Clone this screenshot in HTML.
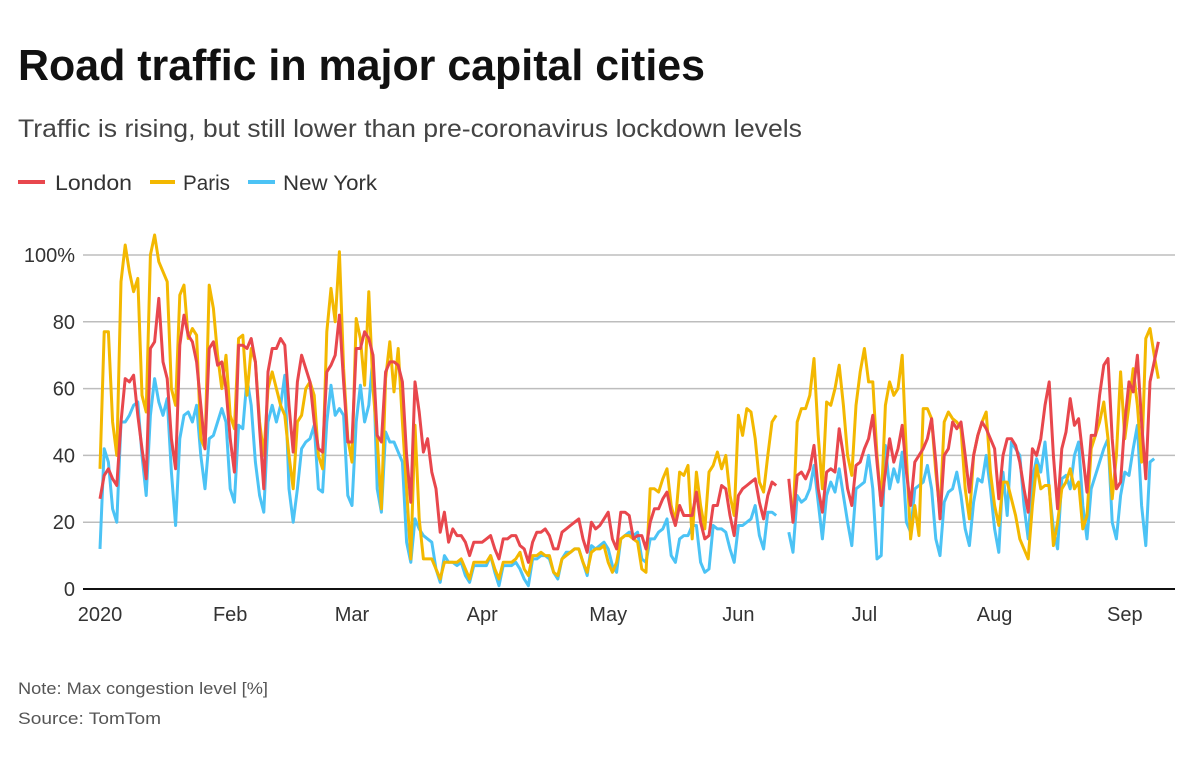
<!DOCTYPE html>
<html><head><meta charset="utf-8"><style>
html,body{margin:0;padding:0;background:#fff;width:1200px;height:759px;overflow:hidden}
svg{display:block;font-family:"Liberation Sans",sans-serif}
</style></head><body>
<svg id="chart" width="1200" height="759" viewBox="0 0 1200 759" xmlns="http://www.w3.org/2000/svg">
<text x="18" y="80" font-size="44" font-weight="bold" fill="#111" textLength="687" lengthAdjust="spacingAndGlyphs">Road traffic in major capital cities</text>
<text x="18" y="137" font-size="25" fill="#444" textLength="784" lengthAdjust="spacingAndGlyphs">Traffic is rising, but still lower than pre-coronavirus lockdown levels</text>
<g>
<g><line x1="18" y1="182" x2="45" y2="182" stroke="#e8474d" stroke-width="4"/><text x="55" y="190" font-size="21" fill="#333" textLength="77" lengthAdjust="spacingAndGlyphs">London</text></g>
<g><line x1="150" y1="182" x2="175" y2="182" stroke="#f3b800" stroke-width="4"/><text x="183" y="190" font-size="21" fill="#333" textLength="47" lengthAdjust="spacingAndGlyphs">Paris</text></g>
<g><line x1="248" y1="182" x2="275" y2="182" stroke="#4cc3f5" stroke-width="4"/><text x="283" y="190" font-size="21" fill="#333" textLength="94" lengthAdjust="spacingAndGlyphs">New York</text></g>
</g>
<g id="grid"></g>
<g id="series"></g>
<g id="xaxis"></g>
<text x="18" y="694" font-size="17" fill="#555" textLength="250" lengthAdjust="spacingAndGlyphs">Note: Max congestion level [%]</text>
<text x="18" y="724" font-size="17" fill="#555" textLength="143" lengthAdjust="spacingAndGlyphs">Source: TomTom</text>
</svg>
<script>
const yTicks = [0,20,40,60,80,100];
const yTickLabels = ["0","20","40","60","80","100%"];
const monthDays = [0,31,60,91,121,152,182,213,244];
const monthLabels = ["2020","Feb","Mar","Apr","May","Jun","Jul","Aug","Sep"];
const N = null;
const london = [27,34,36,33,31,
50,63,62,64,52,42,33, 72,74,87,68,63,45,36, 73,82,76,74,68,55,42, 72,74,67,68,60,45,35, 73,73,72,75,68,48,30,
65,72,72,75,73,55,41, 62,70,66,62,50,42,41, 65,67,70,82,62,44,44, 72,72,77,75,70,46,44, 65,68,68,67,62,40,26,
62,53,41,45,35,30,17, 23,14,18,16,16,14,10, 14,14,14,15,16,12,9, 15,15,16,16,13,12,8, 14,17,17,18,16,12,12,
17,18,19,20,21,15,11, 20,18,19,21,23,15,12, 23,23,22,15,16,16,12, 20,24,24,27,29,23,19, 25,22,22,22,29,20,15,
16,25,25,31,30,22,16, 28,30,31,32,33,26,21, 28,32,31,N,N,
33,20,34,35,33,36,43,30,23, 35,36,35,48,40,30,25, 37,38,42,45,52,38,25, 35,45,38,42,49,35,25, 38,40,42,45,51,38,21,
40,42,50,48,50,40,29, 40,46,50,48,45,42,27, 40,45,45,43,38,30,23, 42,40,45,55,62,40,24, 42,47,57,49,51,40,29,
46,46,58,67,69,45,30, 32,50,62,59,70,50,33, 62,68,74];
const paris = [36,77,77,50,40,
92,103,95,89,93,58,53, 100,106,98,95,92,60,55, 88,91,75,78,76,45,42, 91,84,70,60,70,52,48, 75,76,58,72,68,50,40,
60,65,60,55,52,40,30, 50,52,60,62,58,40,36, 77,90,80,101,66,45,38, 81,75,61,89,60,45,24, 63,74,59,72,50,30,9,
49,21,9,9,9,6,3, 8,8,8,8,9,6,3, 8,8,8,8,10,6,3, 8,8,8,9,11,6,4, 10,10,11,10,10,5,4,
9,10,11,12,12,8,5, 11,12,12,13,8,5,8, 15,16,16,15,14,6,5, 30,30,29,33,36,25,20, 35,34,37,15,35,25,18,
35,37,41,36,40,28,22, 52,46,54,53,45,32,29, 40,50,52,N,N,
N,20,50,54,54,58,69,46,30, 56,55,60,67,55,40,34, 55,65,72,62,62,40,25, 55,62,58,60,70,40,15, 25,16,54,54,51,35,23,
50,53,51,50,48,30,21, 40,46,50,53,35,25,19, 32,32,27,22,15,12,9, 25,37,30,31,31,13,20, 30,32,36,30,32,18,22,
42,46,50,56,45,27,40, 65,45,55,66,55,38,75, 78,70,63];
const newYork = [12,42,38,24,20,
50,50,52,55,56,40,28, 52,63,56,52,57,35,19, 45,52,53,50,55,40,30, 45,46,50,54,50,30,26, 49,48,63,55,38,28,23,
50,55,50,55,64,30,20, 30,42,44,45,49,30,29, 50,61,52,54,52,28,25, 50,61,50,55,70,30,23, 47,44,44,41,38,14,8,
21,18,16,15,14,6,2, 10,8,8,7,8,4,2, 7,7,7,7,10,5,1, 7,7,7,8,6,3,1, 9,9,10,10,9,5,3,
9,11,11,12,12,8,4, 13,12,13,14,12,7,5, 15,16,17,16,17,9,8, 15,15,17,18,21,10,8, 15,16,16,19,19,8,5,
6,19,18,18,17,12,8, 19,19,20,21,25,16,12, 23,23,22,N,N,
17,11,28,26,27,30,37,26,15, 28,32,29,36,28,20,13, 30,31,32,40,30,9,10, 43,30,36,32,41,20,17, 30,31,32,37,30,15,10,
26,29,30,35,28,18,13, 26,33,32,40,30,18,11, 35,22,44,42,40,25,15, 33,39,35,44,30,18,12, 33,34,30,40,44,25,15,
30,34,38,42,45,20,15, 28,35,34,42,49,25,13, 38,39];

const NS = "http://www.w3.org/2000/svg";
const xPos = d => 100 + d * 4.2;
const yPos = v => 589 - v * 3.34;
const grid = document.getElementById('grid');
yTicks.forEach((t, i) => {
  if (t > 0) {
    const l = document.createElementNS(NS, 'line');
    l.setAttribute('x1', 83); l.setAttribute('x2', 1175);
    l.setAttribute('y1', yPos(t)); l.setAttribute('y2', yPos(t));
    l.setAttribute('stroke', '#bdbdbd'); l.setAttribute('stroke-width', '1.5');
    
    
    grid.appendChild(l);
  }
  const tx = document.createElementNS(NS, 'text');
  tx.setAttribute('x', 75); tx.setAttribute('y', yPos(t) + 7);
  tx.setAttribute('text-anchor', 'end'); tx.setAttribute('font-size', '20'); tx.setAttribute('fill', '#333');
  tx.textContent = yTickLabels[i];
  
  
  grid.appendChild(tx);
});
const ser = document.getElementById('series');
function drawLine(vals, color, name) {
  let d = '', pen = false;
  vals.forEach((v, i) => {
    if (v === null) { pen = false; return; }
    d += (pen ? 'L' : 'M') + xPos(i).toFixed(1) + ' ' + yPos(v).toFixed(1);
    pen = true;
  });
  const p = document.createElementNS(NS, 'path');
  p.setAttribute('d', d); p.setAttribute('fill', 'none'); p.setAttribute('stroke', color);
  p.setAttribute('stroke-width', '3'); p.setAttribute('stroke-linejoin', 'round');
  
  
  ser.appendChild(p);
}
drawLine(newYork, '#4cc3f5', 'new-york-line');
drawLine(paris, '#f3b800', 'paris-line');
drawLine(london, '#e8474d', 'london-line');
const xa = document.getElementById('xaxis');
const base = document.createElementNS(NS, 'line');
base.setAttribute('x1', 83); base.setAttribute('x2', 1175); base.setAttribute('y1', 589); base.setAttribute('y2', 589);
base.setAttribute('stroke', '#111'); base.setAttribute('stroke-width', '2');


xa.appendChild(base);
monthDays.forEach((d, i) => {
  const t = document.createElementNS(NS, 'text');
  t.setAttribute('x', xPos(d)); t.setAttribute('y', 621);
  t.setAttribute('text-anchor', 'middle'); t.setAttribute('font-size', '20'); t.setAttribute('fill', '#333');
  t.textContent = monthLabels[i];
  
  
  xa.appendChild(t);
});
</script>
</body></html>
